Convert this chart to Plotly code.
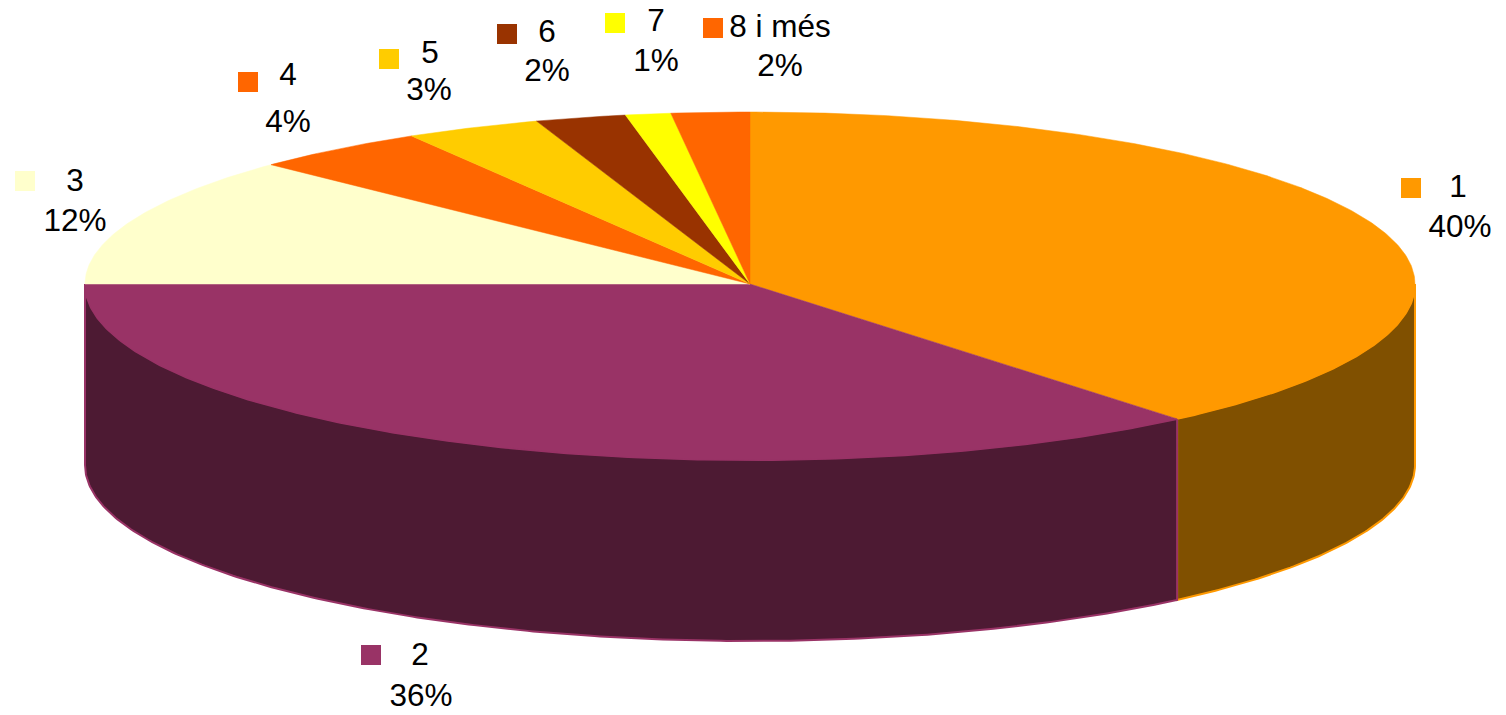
import numpy as np
import plotly.graph_objects as go

categories = ["1", "2", "3", "4", "5", "6", "7", "8 i més"]
shares = [38.9, 36.1, 12.2, 4.3, 3.3, 2.2, 1.1, 1.9]
percent_labels = ["40%", "36%", "12%", "4%", "3%", "2%", "1%", "2%"]
top_colors = ["#FF9900", "#993366", "#FFFFCC", "#FF6600", "#FFCC00", "#993300", "#FFFF00", "#FF6600"]
side_colors = ["#805000", "#4D1A33", "#808066", "#803300", "#806600", "#4D1A00", "#808000", "#803300"]

CX, CY, RX, RY_BACK, RY_FRONT, DEPTH = 750, 284, 665, 172, 176, 181
swatch_pos = [(1411, 188), (371, 655), (25, 181), (248, 82), (389, 59), (507, 34), (615, 23), (713, 28)]
name_pos = [(1458, 189), (420, 657), (75, 183), (288, 77), (430, 55), (547, 34), (656, 23), (780, 29)]
pct_pos = [(1460, 229), (421, 698), (75, 223), (288, 124), (429, 92), (547, 73), (656, 63), (780, 68)]

FONT = dict(family="Liberation Sans, Arial, sans-serif", size=31.5, color="#000000")


def rim(t0, t1, dy=0):
    n = max(2, int(abs(t1 - t0) * 2) + 2)
    t = np.radians(np.linspace(t0, t1, n))
    c = np.cos(t)
    return CX + RX * np.sin(t), CY - np.where(c > 0, RY_BACK, RY_FRONT) * c + dy


edges = np.concatenate([[0], np.cumsum(shares) / sum(shares) * 360])
fig = go.Figure()

# Side walls (only the front half of the disc, t in 90..270 degrees)
for i in range(len(shares)):
    a, b = max(edges[i], 90), min(edges[i + 1], 270)
    if b <= a:
        continue
    x0, y0 = rim(a, b)
    x1, y1 = rim(b, a, DEPTH)
    fig.add_trace(go.Scatter(
        x=np.r_[x0, x1, x0[0]], y=np.r_[y0, y1, y0[0]], mode="lines", fill="toself",
        fillcolor=side_colors[i], line=dict(color=top_colors[i], width=2),
        hoverinfo="skip", showlegend=False))

# Top faces
for i in range(len(shares)):
    x0, y0 = rim(edges[i], edges[i + 1])
    fig.add_trace(go.Scatter(
        x=np.r_[CX, x0, CX], y=np.r_[CY, y0, CY], mode="lines", fill="toself",
        fillcolor=top_colors[i], line=dict(color=top_colors[i], width=0.5),
        name=categories[i], showlegend=False))

# Data labels with colour keys
for i, cat in enumerate(categories):
    fig.add_trace(go.Scatter(
        x=[swatch_pos[i][0]], y=[swatch_pos[i][1]], mode="markers",
        marker=dict(symbol="square", size=20, color=top_colors[i], line=dict(width=0)),
        hoverinfo="skip", showlegend=False))
    fig.add_trace(go.Scatter(
        x=[name_pos[i][0], pct_pos[i][0]], y=[name_pos[i][1], pct_pos[i][1]],
        mode="text", text=[cat, percent_labels[i]], textposition="middle center",
        textfont=FONT, hoverinfo="skip", showlegend=False))

fig.update_layout(
    width=1506, height=715, margin=dict(l=0, r=0, t=0, b=0, pad=0),
    paper_bgcolor="#FFFFFF", plot_bgcolor="#FFFFFF", showlegend=False,
    xaxis=dict(range=[0, 1506], visible=False, fixedrange=True),
    yaxis=dict(range=[715, 0], visible=False, fixedrange=True),
)
fig.write_html("out.html", config=dict(displayModeBar=False),
               post_script="document.body.style.margin='0';document.documentElement.style.overflow='hidden';")
